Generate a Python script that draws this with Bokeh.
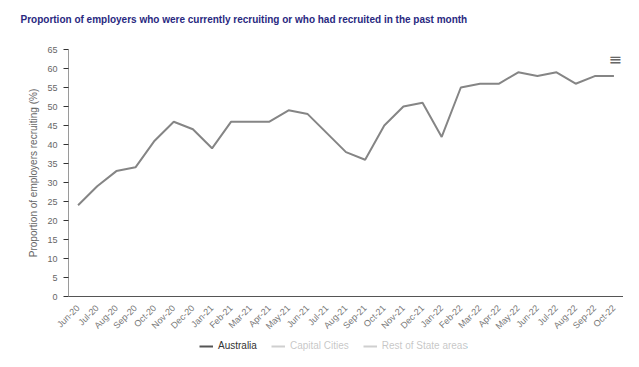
from math import pi
from bokeh.plotting import figure
from bokeh.layouts import column
from bokeh.models import (ColumnDataSource, Range1d, FactorRange, Legend, LegendItem,
                          Title, Label, SingleIntervalTicker)
from bokeh.embed import file_html
from bokeh.resources import INLINE

months = ["Jun-20", "Jul-20", "Aug-20", "Sep-20", "Oct-20", "Nov-20", "Dec-20",
          "Jan-21", "Feb-21", "Mar-21", "Apr-21", "May-21", "Jun-21", "Jul-21",
          "Aug-21", "Sep-21", "Oct-21", "Nov-21", "Dec-21", "Jan-22", "Feb-22",
          "Mar-22", "Apr-22", "May-22", "Jun-22", "Jul-22", "Aug-22", "Sep-22", "Oct-22"]
australia = [24, 29, 33, 34, 41, 46, 44, 39, 46, 46, 46, 49, 48, 43, 38, 36, 45, 50,
             51, 42, 55, 56, 56, 59, 58, 59, 56, 58, 58]
series_names = ["Australia", "Capital Cities", "Rest of State areas"]
title_text = "Proportion of employers who were currently recruiting or who had recruited in the past month"
y_label = "Proportion of employers recruiting (%)"

FONT = "Liberation Sans"

# title strip
tf = figure(width=623, height=38, output_backend="svg", toolbar_location=None,
            x_range=Range1d(0, 1), y_range=Range1d(0, 1),
            min_border_left=68, min_border_right=0, min_border_top=36, min_border_bottom=0)
tf.axis.visible = False
tf.grid.visible = False
tf.outline_line_color = None
t = Title(text=title_text, text_font=FONT, text_font_size="10px", text_font_style="bold",
          text_color="#29297f", align="left", offset=-48, standoff=23)
tf.add_layout(t, "above")

p = figure(width=623, height=299, output_backend="svg", toolbar_location=None,
           x_range=FactorRange(*months, range_padding=0), y_range=Range1d(0, 65),
           min_border_left=68, min_border_right=0, min_border_top=11, min_border_bottom=36)
p.outline_line_color = None
p.xgrid.grid_line_color = None
p.ygrid.grid_line_color = None
p.background_fill_color = "white"
p.border_fill_color = "white"

src = ColumnDataSource(dict(m=months, v=australia))
p.line("m", "v", source=src, line_color="#858585", line_width=2)

# y axis
ya = p.yaxis[0]
ya.ticker = SingleIntervalTicker(interval=5)
ya.axis_line_color = "#9a9a9a"
ya.major_tick_line_color = "#333333"
ya.major_tick_out = 5
ya.major_tick_in = 0
ya.minor_tick_line_color = None
ya.major_label_text_font = FONT
ya.major_label_text_font_size = "9px"
ya.major_label_text_color = "#666666"
ya.major_label_standoff = 6
ya.axis_label = y_label
ya.axis_label_text_font = FONT
ya.axis_label_text_font_size = "10px"
ya.axis_label_text_font_style = "normal"
ya.axis_label_text_color = "#666666"
ya.axis_label_standoff = 5

# x axis
xa = p.xaxis[0]
xa.axis_line_color = "#555555"
xa.major_tick_line_color = None
xa.major_label_orientation = pi / 4
xa.major_label_text_font = FONT
xa.major_label_text_font_size = "9px"
xa.major_label_text_color = "#777777"
xa.major_label_standoff = 4

p.add_layout(Label(x=540, y=247, x_units="screen", y_units="screen", text="\u2261",
                   text_font="DejaVu Sans", text_font_size="16px", text_color="#666666",
                   text_baseline="top"))

# legend strip
lf = figure(width=623, height=14, output_backend="svg", toolbar_location=None,
            x_range=FactorRange(*months), y_range=Range1d(-100, -99),
            min_border_left=0, min_border_right=0, min_border_top=0, min_border_bottom=0)
lf.axis.visible = False
lf.grid.visible = False
lf.outline_line_color = None
l1 = lf.line("m", "v", source=src, line_color="#555555", line_width=2)
l2 = lf.line("m", "v", source=src, line_color="#555555", line_width=2, visible=False)
l3 = lf.line("m", "v", source=src, line_color="#555555", line_width=2, visible=False)
legend = Legend(items=[LegendItem(label=series_names[0], renderers=[l1]),
                       LegendItem(label=series_names[1], renderers=[l2]),
                       LegendItem(label=series_names[2], renderers=[l3])],
                orientation="horizontal", location=(131, 0), click_policy="hide",
                label_text_font=FONT, label_text_font_size="10px", label_text_color="#333333",
                glyph_width=14, glyph_height=10, spacing=14, label_standoff=5,
                border_line_color=None, background_fill_alpha=0,
                inactive_fill_color="white", inactive_fill_alpha=0.72,
                padding=1, margin=0)
lf.add_layout(legend, "center")

layout = column(tf, p, lf, spacing=0)
open("out.html", "w").write(file_html(layout, INLINE))
